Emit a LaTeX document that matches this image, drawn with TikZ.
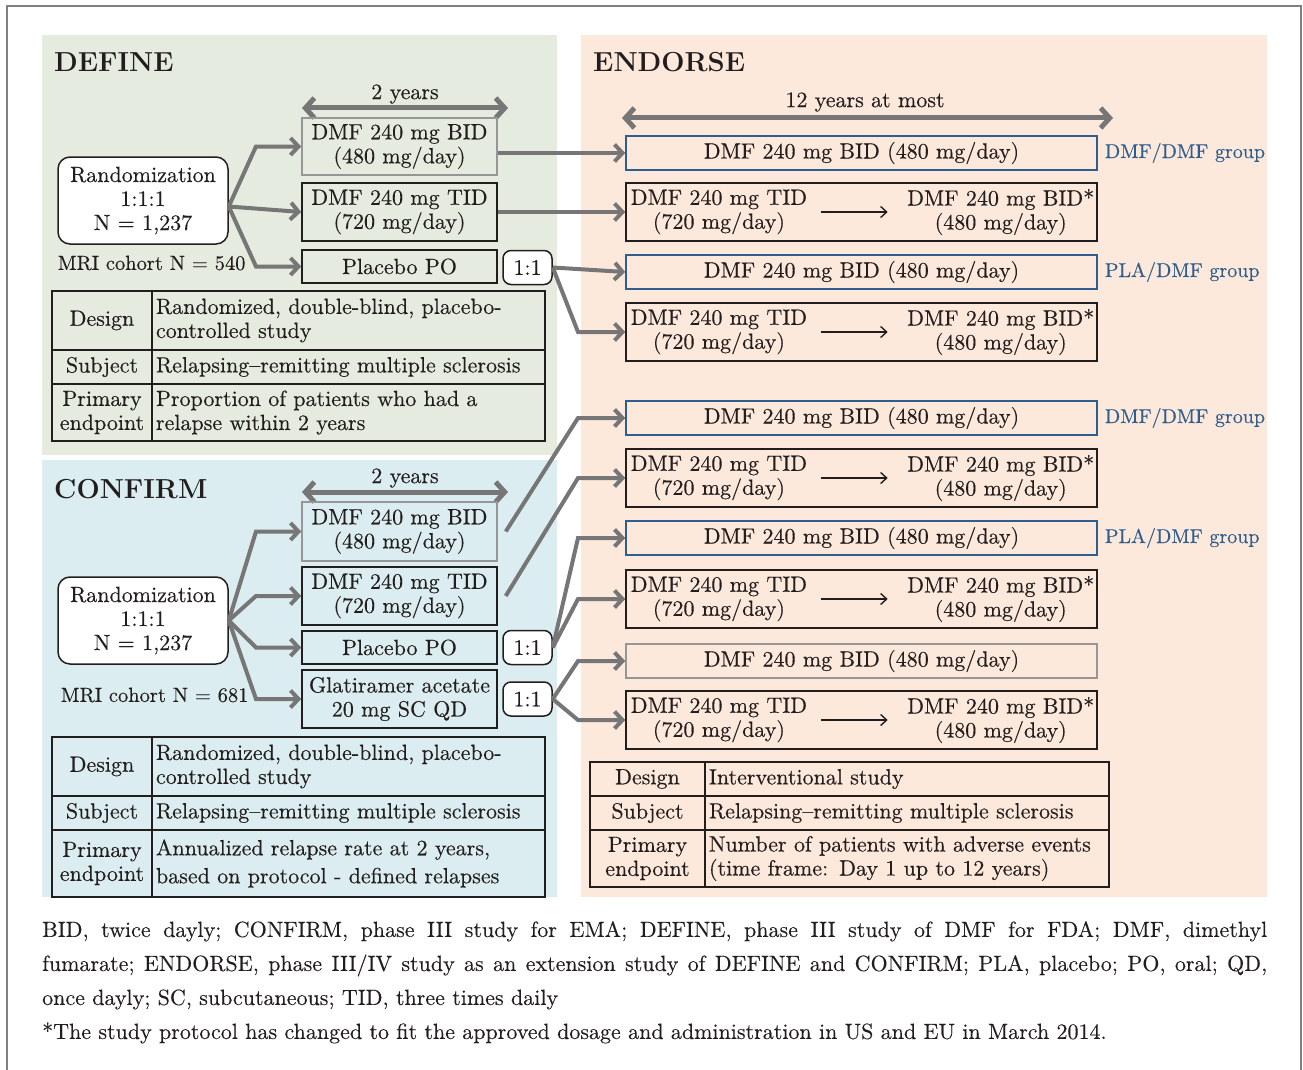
\documentclass[tikz,border=0pt]{standalone}
\usepackage{fontspec}
\newfontfamily\heavyfont{lmroman10-regular.otf}[FakeBold=0.3]
\newfontfamily\notefamily{lmroman10-regular.otf}[FakeBold=0.2]
\usepackage{tikz}
\usetikzlibrary{arrows.meta, positioning}

\definecolor{definebg}{RGB}{229,235,222}
\definecolor{confirmbg}{RGB}{219,237,240}
\definecolor{endorsebg}{RGB}{253,232,220}
\definecolor{arrowgray}{RGB}{118,118,118}
\definecolor{boxgray}{RGB}{150,150,150}
\definecolor{labelblue}{RGB}{46,94,142}
\definecolor{boxblack}{RGB}{35,30,30}
\definecolor{framegray}{RGB}{128,128,128}

\newcommand{\boxfont}{\heavyfont\fontsize{22}{24}\selectfont}
\newcommand{\smallfont}{\heavyfont\fontsize{20.5}{24}\selectfont}
\newcommand{\labelfont}{\heavyfont\fontsize{20}{24}\selectfont}
\newcommand{\titlefont}{\fontsize{27.5}{30}\selectfont\bfseries}
\newcommand{\notefont}{\notefamily\fontsize{22}{34}\selectfont\frenchspacing}

\begin{document}
\begin{tikzpicture}[
    x=1pt, y=-1pt,
    every node/.style={font=\boxfont, text=boxblack},
    panel title/.style={font=\titlefont, anchor=west, inner sep=4pt},
    arm/.style={draw=boxblack, line width=1.5pt, minimum width=195pt, align=center, inner sep=2pt},
    gray arm/.style={arm, draw=boxgray},
    rand box/.style={draw=boxblack, fill=white, line width=1.5pt, rounded corners=12pt, minimum width=170pt, minimum height=87pt, align=center, inner sep=2pt},
    ratio box/.style={draw=boxblack, fill=white, line width=1.5pt, rounded corners=8pt, minimum width=49pt, minimum height=34pt, inner sep=2pt},
    ext box/.style={draw=boxblack, line width=1.5pt, minimum width=471pt, inner sep=3pt},
    head cell/.style={draw=boxblack, line width=1.5pt, outer sep=0pt, align=center, inner sep=2pt},
    body cell/.style={draw=boxblack, line width=1.5pt, outer sep=0pt, align=left, inner sep=4pt},
    flow/.style={draw=arrowgray, line width=4pt, -{Straight Barb[length=8pt, width=17pt]}},
    years arrow/.style={draw=arrowgray, line width=5pt, {Straight Barb[length=9pt, width=20pt]}-{Straight Barb[length=9pt, width=20pt]}},
    dose switch/.style={draw=boxblack, line width=1.4pt, -{Straight Barb[length=6pt, width=11pt]}},
    group label/.style={text=labelblue, font=\labelfont, inner sep=2pt}
]
\useasboundingbox (0,0) rectangle (1303,1070);

% --- Panels and frame ---
\fill[definebg] (42,35) rectangle (557,455);
\fill[confirmbg] (42,460) rectangle (557,897);
\fill[endorsebg] (581,35) rectangle (1267,897);
\draw[framegray, line width=2pt] (7,1070) -- (7,6) -- (1301,6) -- (1301,1070);

% --- DEFINE ---
\node[panel title] (deftitle) at (50,62) {DEFINE};
\node (dyears) at (405,94) {2 years};
\coordinate (dspanl) at (302,108);
\coordinate (dspanr) at (508,108);
\draw[years arrow] (dspanl) -- (dspanr);

\node[gray arm, minimum height=57pt] (dbid) at (399.5,146.5) {DMF 240 mg BID\\(480 mg/day)};
\node[arm, minimum height=58pt] (dtid) at (399.5,212) {DMF 240 mg TID\\(720 mg/day)};
\node[arm, minimum height=33pt] (dpla) at (399.5,266.5) {Placebo PO};
\node[ratio box] (dratio) at (527.5,267.5) {1:1};
\node[rand box] (drand) at (143,200.5) {Randomization\\1:1:1\\N = 1,237};
\node[font=\smallfont, anchor=east] (dmri) at (249,263) {MRI cohort N = 540};

\coordinate (dsplit) at ([yshift=-6pt]drand.east);
\coordinate (dfork) at (256,0);
\draw[flow] (dsplit) -- (dfork |- dbid.west) -- (dbid.west);
\draw[flow] (dsplit) -- (dtid.west);
\draw[flow] (dsplit) -- (dfork |- dpla.west) -- (dpla.west);

\node[head cell, minimum width=100pt, minimum height=59pt, anchor=north west] (ddesign) at (52,291) {Design};
\node[body cell, text width=385pt, minimum height=59pt, right=0pt of ddesign] (ddesignv) {Randomized, double-blind, placebo-\\controlled study};
\node[head cell, minimum width=100pt, minimum height=34pt, below=0pt of ddesign] (dsubject) {Subject};
\node[body cell, text width=385pt, minimum height=34pt, right=0pt of dsubject] (dsubjectv) {Relapsing–remitting multiple sclerosis};
\node[head cell, minimum width=100pt, minimum height=57pt, below=0pt of dsubject] (dprimary) {Primary\\endpoint};
\node[body cell, text width=385pt, minimum height=57pt, right=0pt of dprimary] (dprimaryv) {Proportion of patients who had a\\relapse within 2 years};

% --- CONFIRM ---
\node[panel title] (contitle) at (50,489) {CONFIRM};
\node (cyears) at (405,478) {2 years};
\coordinate (cspanl) at (302,492);
\coordinate (cspanr) at (508,492);
\draw[years arrow] (cspanl) -- (cspanr);

\node[gray arm, minimum height=59pt] (cbid) at (399.5,531.5) {DMF 240 mg BID\\(480 mg/day)};
\node[arm, minimum height=58pt] (ctid) at (399.5,596) {DMF 240 mg TID\\(720 mg/day)};
\node[arm, minimum height=33pt] (cpla) at (399.5,647.5) {Placebo PO};
\node[arm, minimum height=58pt] (cgla) at (399.5,699) {Glatiramer acetate\\20 mg SC QD};
\node[ratio box] (cratioa) at (527.5,647.5) {1:1};
\node[ratio box] (cratiob) at (527.5,699) {1:1};
\node[rand box] (crand) at (143,620.5) {Randomization\\1:1:1\\N = 1,237};
\node[font=\smallfont, anchor=east] (cmri) at (252,695) {MRI cohort N = 681};

\coordinate (cfork) at (256,0);
\draw[flow] (crand.east) -- (cfork |- cbid.west) -- (cbid.west);
\draw[flow] (crand.east) -- (cfork |- ctid.west) -- (ctid.west);
\draw[flow] (crand.east) -- (cfork |- cpla.west) -- (cpla.west);
\draw[flow] (crand.east) -- (cfork |- cgla.west) -- (cgla.west);

\node[head cell, minimum width=100pt, minimum height=59pt, anchor=north west] (cdesign) at (52,737) {Design};
\node[body cell, text width=385pt, minimum height=59pt, right=0pt of cdesign] (cdesignv) {Randomized, double-blind, placebo-\\controlled study};
\node[head cell, minimum width=100pt, minimum height=34pt, below=0pt of cdesign] (csubject) {Subject};
\node[body cell, text width=385pt, minimum height=34pt, right=0pt of csubject] (csubjectv) {Relapsing–remitting multiple sclerosis};
\node[head cell, minimum width=100pt, minimum height=67pt, below=0pt of csubject] (cprimary) {Primary\\endpoint};
\node[body cell, text width=385pt, minimum height=67pt, right=0pt of cprimary] (cprimaryv) {Annualized relapse rate at 2 years,\\[4pt]based on protocol - defined relapses};

% --- ENDORSE ---
\node[panel title] (endtitle) at (589,62) {ENDORSE};
\node (eyears) at (865,102) {12 years at most};
\coordinate (espanl) at (622,118);
\coordinate (espanr) at (1113,118);
\draw[years arrow] (espanl) -- (espanr);

% single dose boxes, blue border for the group rows
\foreach \n/\y/\c in {1/153/labelblue, 3/272/labelblue, 5/418/labelblue, 7/538/labelblue, 9/661/boxgray} {
    \node[ext box, draw=\c, minimum height=34pt] (endo\n) at (861.5,\y) {DMF 240 mg BID (480 mg/day)};
}
% TID -> BID switch boxes
\foreach \n/\y in {2/212, 4/332, 6/478, 8/599, 10/720} {
    \node[ext box, minimum height=58pt] (endo\n) at (861.5,\y) {};
    \node[anchor=west, align=center] (from\n) at ([xshift=2pt]endo\n.west) {DMF 240 mg TID\\(720 mg/day)};
    \node[anchor=east, align=center] (to\n) at (endo\n.east) {DMF 240 mg BID*\\(480 mg/day)};
    \draw[dose switch, shorten <=10pt, shorten >=16pt] (from\n) -- (to\n);
}

\node[group label, right=5pt of endo1] (grp1) {DMF/DMF group};
\node[group label, right=5pt of endo3] (grp3) {PLA/DMF group};
\node[group label, right=5pt of endo5] (grp5) {DMF/DMF group};
\node[group label, right=5pt of endo7] (grp7) {PLA/DMF group};

\node[head cell, minimum width=115pt, minimum height=34pt, anchor=north west] (edesign) at (590,762) {Design};
\node[body cell, text width=396pt, minimum height=34pt, right=0pt of edesign] (edesignv) {Interventional study};
\node[head cell, minimum width=115pt, minimum height=34pt, below=0pt of edesign] (esubject) {Subject};
\node[body cell, text width=396pt, minimum height=34pt, right=0pt of esubject] (esubjectv) {Relapsing–remitting multiple sclerosis};
\node[head cell, minimum width=115pt, minimum height=57pt, below=0pt of esubject] (eprimary) {Primary\\endpoint};
\node[body cell, text width=396pt, minimum height=57pt, right=0pt of eprimary] (eprimaryv) {Number of patients with adverse events\\(time frame: Day 1 up to 12 years)};

% --- Extension arrows ---
\coordinate (efork) at (578,0);
\draw[flow] (dbid.east |- endo1.west) -- (endo1.west);
\draw[flow] (dtid.east) -- (endo2.west);
\draw[flow] (dratio.east) -- (endo3.west);
\draw[flow] (dratio.east) -- (efork |- endo4.west) -- (endo4.west);
\draw[flow] ([xshift=8pt]cbid.east) -- (efork |- endo5.west) -- (endo5.west);
\draw[flow] ([xshift=8pt]ctid.east) -- (efork |- endo6.west) -- (endo6.west);
\draw[flow] (cratioa.east) -- (efork |- endo7.west) -- (endo7.west);
\draw[flow] (cratioa.east) -- (efork |- endo8.west) -- (endo8.west);
\draw[flow] (cratiob.east) -- (efork |- endo9.west) -- (endo9.west);
\draw[flow] (cratiob.east) -- (efork |- endo10.west) -- (endo10.west);

% --- Notes ---
\node[font=\notefont, text width=1225pt, align=justify, inner sep=0pt, anchor=north west] (notes) at (42,921) {BID, twice dayly; CONFIRM, phase III study for EMA; DEFINE, phase III study of DMF for FDA; DMF, dimethyl\linebreak fumarate; ENDORSE, phase III/IV study as an extension study of DEFINE and CONFIRM; PLA, placebo; PO, oral; QD,\linebreak once dayly; SC, subcutaneous; TID, three times daily\\{*}The study protocol has changed to fit the approved dosage and administration in US and EU in March 2014.};

\end{tikzpicture}
\end{document}
